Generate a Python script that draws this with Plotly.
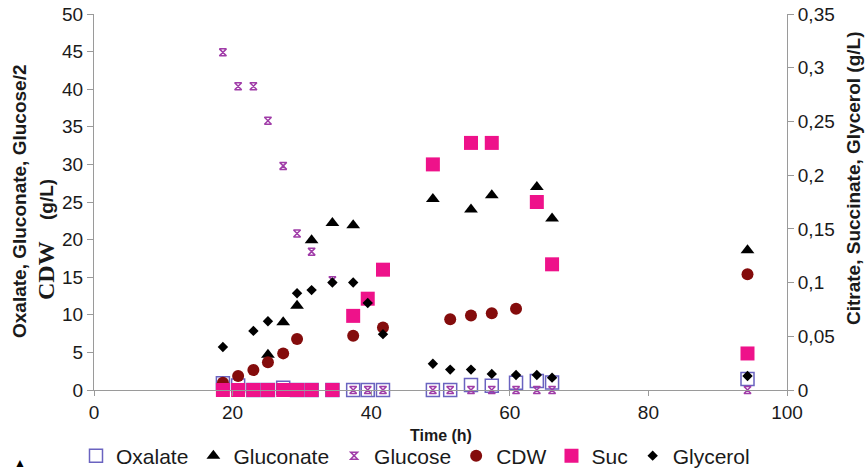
import plotly.graph_objects as go

# ---- data (time in hours) ----
t_all = [18.6, 20.8, 23.0, 25.1, 27.3, 29.3, 31.4, 34.4, 37.4, 39.5, 41.7,
         48.9, 51.4, 54.4, 57.4, 60.9, 63.9, 66.1, 94.3]

oxalate = [0.9, 0.6, 0.0, 0.0, 0.3, 0.0, 0.0, 0.0, 0.0, 0.0, 0.0,
           0.0, 0.0, 0.67, 0.55, 0.97, 1.2, 1.0, 1.46]

t_gluconate = [25.1, 27.3, 29.3, 31.4, 34.4, 37.4, 48.9, 54.4, 57.4, 63.9, 66.1, 94.3]
gluconate = [4.7, 9.0, 11.2, 19.9, 22.2, 21.9, 25.4, 24.0, 25.9, 27.0, 22.8, 18.6]

glucose = [44.9, 40.4, 40.4, 35.8, 29.8, 20.8, 18.4, 14.6, 0.0, 0.0, 0.0,
           0.0, 0.0, 0.0, 0.0, 0.0, 0.0, 0.0, 0.0]

t_cdw = [18.6, 20.8, 23.0, 25.1, 27.3, 29.3, 37.4, 41.7, 51.4, 54.4, 57.4, 60.9, 94.3]
cdw = [0.97, 1.86, 2.66, 3.68, 4.87, 6.78, 7.2, 8.3, 9.4, 9.9, 10.2, 10.8, 15.4]

t_suc = [18.6, 20.8, 23.0, 25.1, 27.3, 29.3, 31.4, 34.4, 37.4, 39.5, 41.7,
         48.9, 54.4, 57.4, 63.9, 66.1, 94.3]
suc = [0.0, 0.0, 0.0, 0.0, 0.0, 0.0, 0.0, 0.0, 0.069, 0.085, 0.112,
       0.210, 0.230, 0.230, 0.175, 0.117, 0.034]

t_glycerol = [18.6, 23.0, 25.1, 29.3, 31.4, 34.4, 37.4, 39.5, 41.7,
              48.9, 51.4, 54.4, 57.4, 60.9, 63.9, 66.1, 94.3]
glycerol = [0.040, 0.055, 0.064, 0.090, 0.093, 0.100, 0.100, 0.081, 0.052,
            0.0245, 0.019, 0.019, 0.015, 0.014, 0.014, 0.0115, 0.013]

x_ticks = [0, 20, 40, 60, 80, 100]

FONT = "Arial, Liberation Sans, sans-serif"
AXIS_COL = "#9a9a9a"

fig = go.Figure()
fig.add_trace(go.Scatter(x=t_all, y=oxalate, mode="markers", name="Oxalate",
                         marker=dict(symbol="square-open", size=13, color="#6a63c0",
                                     line=dict(width=1.5)), cliponaxis=False))
fig.add_trace(go.Scatter(x=t_gluconate, y=gluconate, mode="markers", name="Gluconate",
                         marker=dict(symbol="triangle-up", size=12, color="black"),
                         cliponaxis=False))
fig.add_trace(go.Scatter(x=t_all, y=glucose, mode="markers", name="Glucose",
                         marker=dict(symbol="hourglass-open", size=7, color="#a03ca8",
                                     line=dict(width=1.5)), cliponaxis=False))
fig.add_trace(go.Scatter(x=t_cdw, y=cdw, mode="markers", name="CDW",
                         marker=dict(symbol="circle", size=12, color="#840c0c"),
                         cliponaxis=False))
fig.add_trace(go.Scatter(x=t_suc, y=suc, mode="markers", name="Suc", yaxis="y2",
                         marker=dict(symbol="square", size=14, color="#ee128a"),
                         cliponaxis=False))
fig.add_trace(go.Scatter(x=t_glycerol, y=glycerol, mode="markers", name="Glycerol", yaxis="y2",
                         marker=dict(symbol="diamond", size=8, color="black"),
                         cliponaxis=False))

L, R, T, B = 94, 79, 14, 84
W, H = 866, 474
pw, ph = W - L - R, H - T - B

def px(xp):
    return (xp - L) / pw

def py(yp):
    return (H - B - yp) / ph

fig.update_layout(
    width=W, height=H,
    margin=dict(l=L, r=R, t=T, b=B, autoexpand=False),
    paper_bgcolor="white", plot_bgcolor="white",
    separators=", ",
    font=dict(family=FONT, color="#1a1a1a", size=17),
    showlegend=True,
    legend=dict(orientation="h", x=px(76), y=py(456), xanchor="left", yanchor="middle",
                font=dict(size=21, family=FONT, color="#1a1a1a"),
                itemsizing="trace", bgcolor="rgba(0,0,0,0)"),
    xaxis=dict(range=[0, 100], tickvals=x_ticks, showgrid=False, zeroline=False,
               showline=True, linecolor=AXIS_COL, linewidth=1,
               ticks="outside", ticklen=5, tickcolor=AXIS_COL,
               tickfont=dict(size=19), automargin=False),
    yaxis=dict(range=[0, 50], dtick=5, showgrid=False, zeroline=False,
               showline=True, linecolor=AXIS_COL, linewidth=1,
               ticks="outside", ticklen=6, tickcolor=AXIS_COL,
               tickfont=dict(size=19), automargin=False),
    yaxis2=dict(range=[0, 0.35], dtick=0.05, overlaying="y", side="right",
                showgrid=False, zeroline=False,
                showline=True, linecolor=AXIS_COL, linewidth=1,
                ticks="outside", ticklen=6, tickcolor=AXIS_COL,
                tickfont=dict(size=19), automargin=False),
)

annotations = [
    dict(text="<b>Time (h)</b>", x=px(441), y=py(435), font=dict(size=16)),
    dict(text="<b>Oxalate, Gluconate, Glucose/2</b>", x=px(19), y=py(201),
         textangle=-90, font=dict(size=19)),
    dict(text="<b>(g/L)</b>", x=px(46), y=py(200), textangle=-90, font=dict(size=19)),
    dict(text="<b>CDW</b>", x=px(46), y=py(271), textangle=-90, bgcolor="white",
         font=dict(size=24, family="Liberation Serif, Times New Roman, serif")),
    dict(text="<b>Citrate, Succinate, Glycerol (g/L)</b>", x=px(853), y=py(178),
         textangle=-90, font=dict(size=19)),
    dict(text="▲", x=px(20), y=py(463), font=dict(size=12, color="black")),
]
for a in annotations:
    a.update(xref="paper", yref="paper", showarrow=False, xanchor="center", yanchor="middle")
    fig.add_annotation(**a)

fig.write_html("out.html")
